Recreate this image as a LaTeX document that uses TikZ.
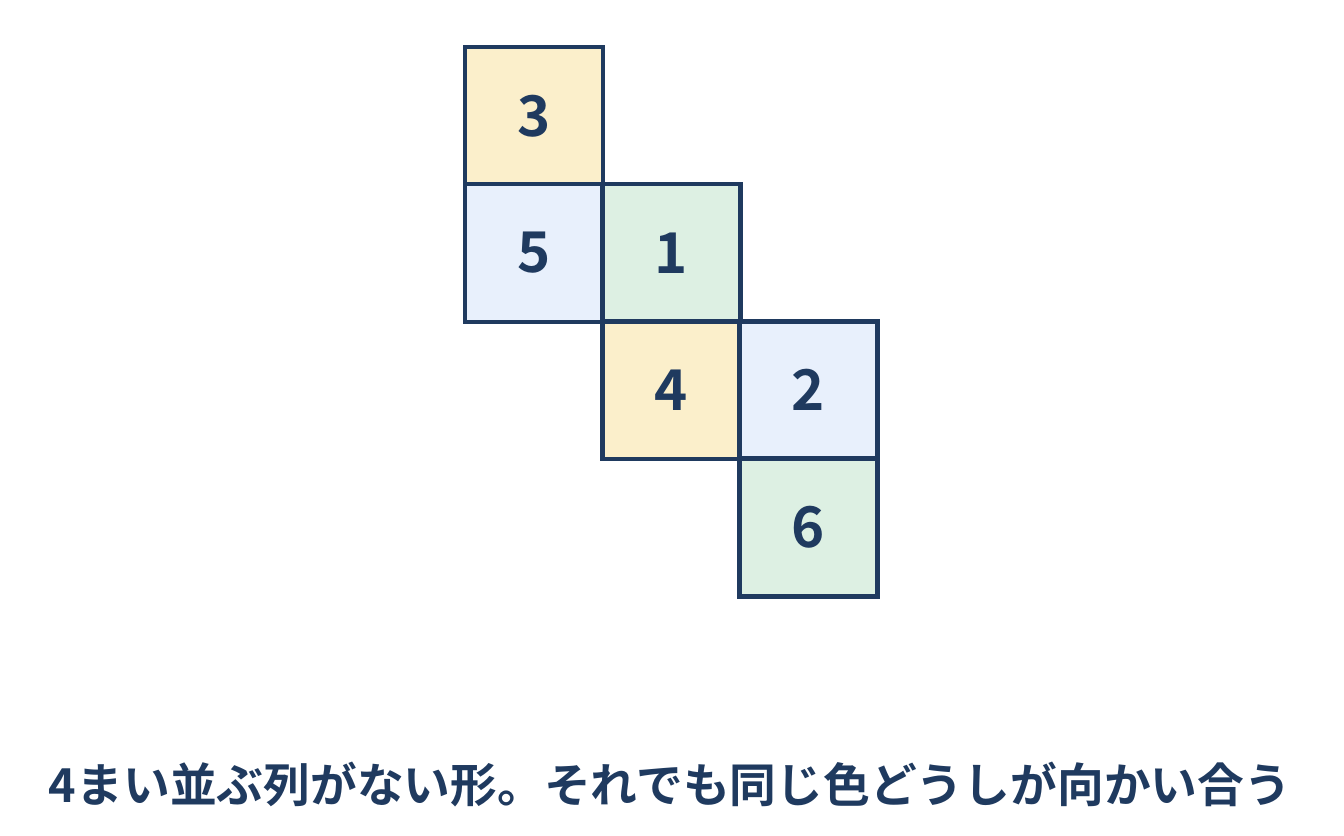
\documentclass[tikz,border=0pt]{standalone}
\usepackage{fontspec}
\setmainfont{Noto Sans CJK JP}[BoldFont=* Bold]
\definecolor{navy}{HTML}{1F3A5F}
\definecolor{faceyellow}{HTML}{FBEFCB}
\definecolor{faceblue}{HTML}{E8F0FC}
\definecolor{facegreen}{HTML}{DDF0E3}
\begin{document}
\begin{tikzpicture}[x=0.01cm, y=-0.01cm, face/.style={rectangle,draw=navy,line width=1.3pt,minimum size=1.375cm,inner sep=0pt,text=navy,font=\fontsize{16pt}{19pt}\selectfont\bfseries}]
\useasboundingbox (0,0) rectangle (1344,836);
\begin{scope}
\node[face,fill=faceyellow] (f3) at (534,116) {3};
\node[face,fill=faceblue] (f5) at (534,253) {5};
\node[face,fill=facegreen] (f1) at (671.5,253) {1};
\node[face,fill=faceyellow] (f4) at (671.5,390) {4};
\node[face,fill=faceblue] (f2) at (808.5,390) {2};
\node[face,fill=facegreen] (f6) at (808.5,527.5) {6};
\end{scope}
\node[text=navy,font=\fontsize{13.3pt}{16pt}\selectfont\bfseries] (caption) at (670,785) {4まい並ぶ列がない形。それでも同じ色どうしが向かい合う};
\end{tikzpicture}
\end{document}
